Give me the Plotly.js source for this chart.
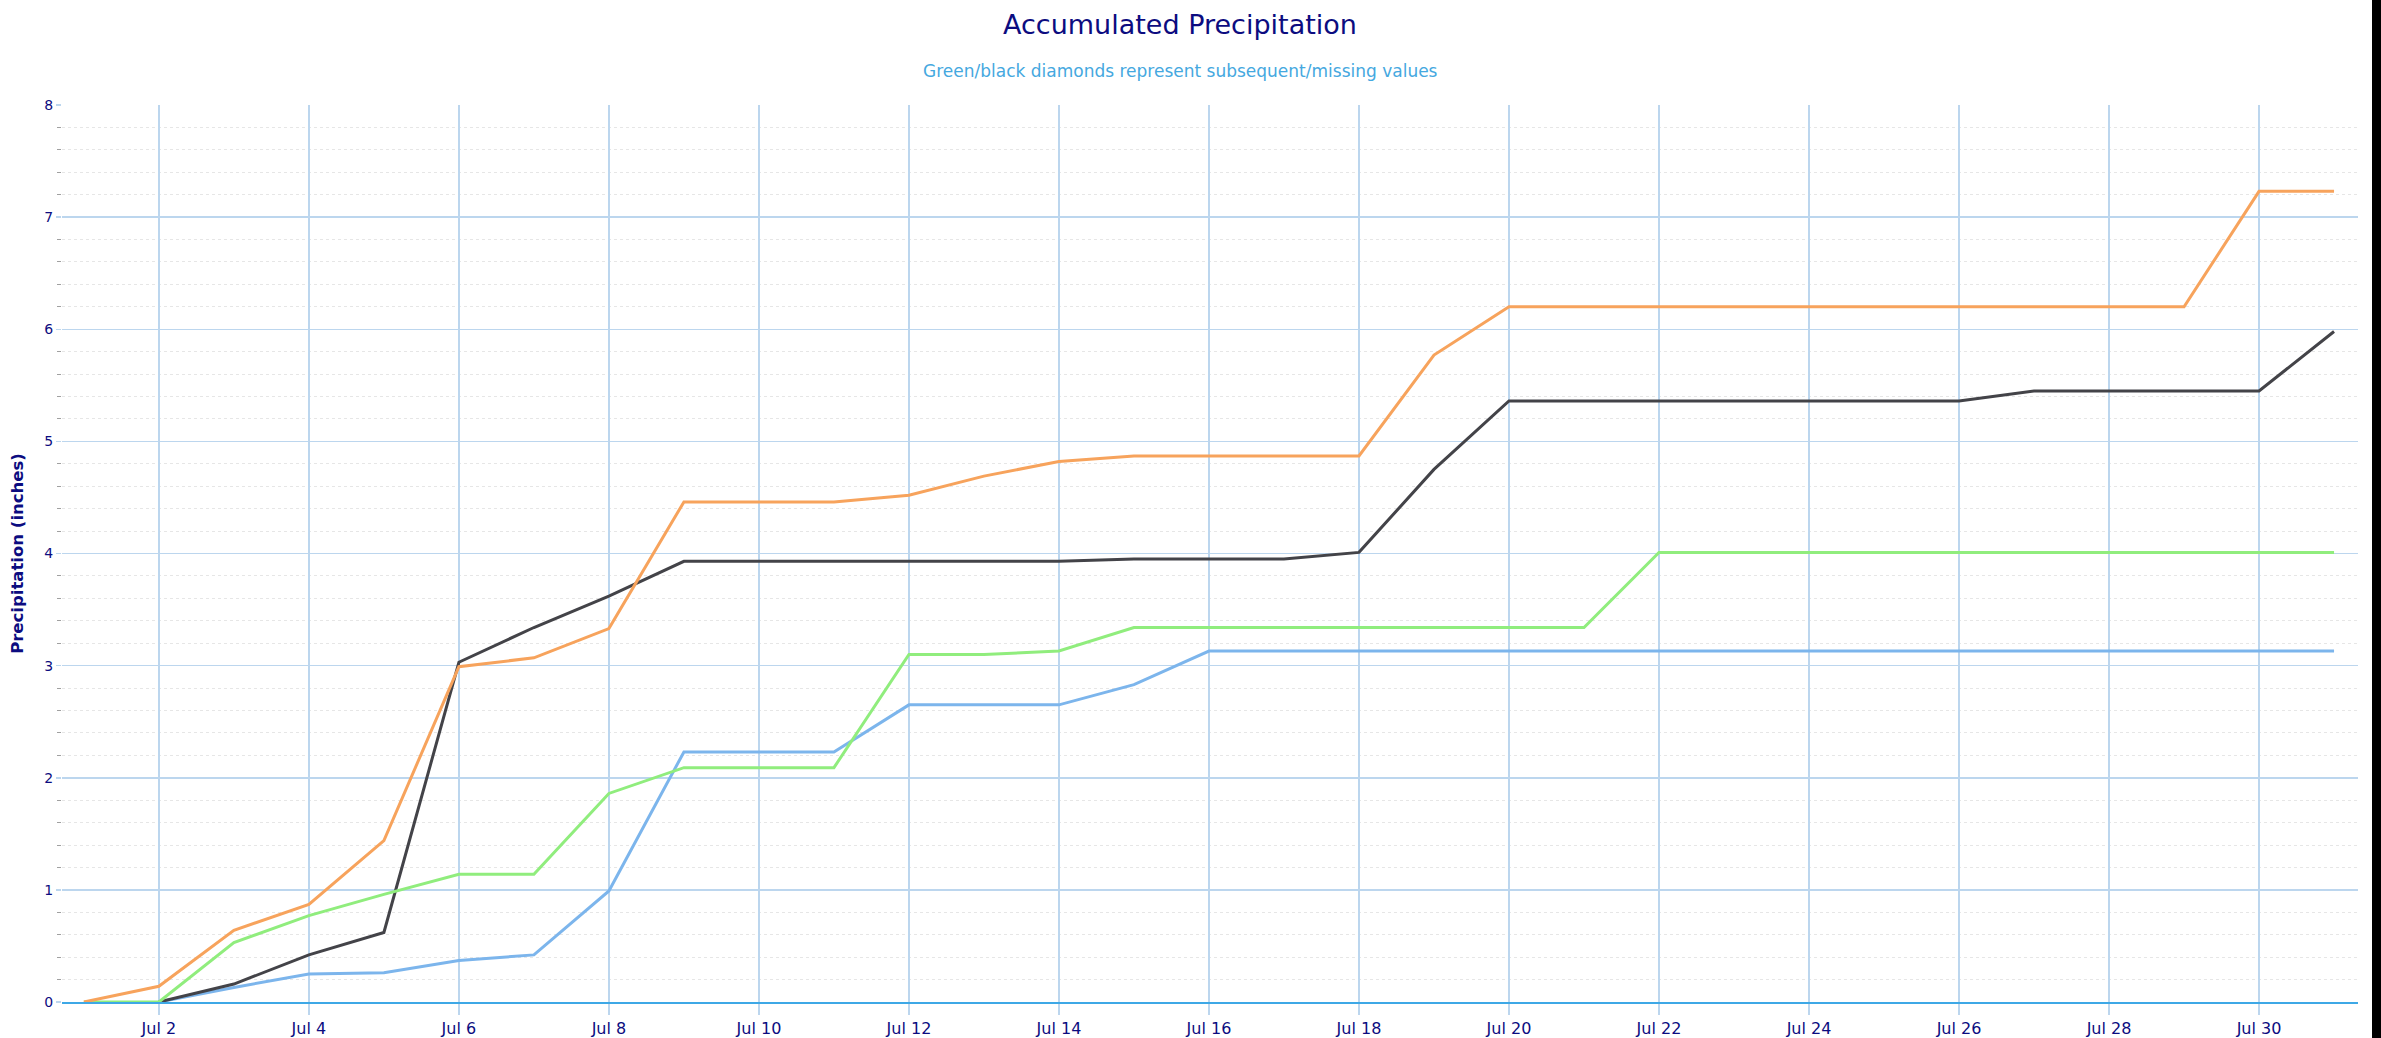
<!DOCTYPE html>
<html>
<head>
<meta charset="utf-8">
<script src="https://cdn.plot.ly/plotly-3.0.1.min.js"></script>
<style>
  html, body { margin: 0; padding: 0; background: #000; overflow: hidden; }
  #chart { width: 2372px; height: 1038px; background: #fff; }
</style>
</head>
<body>
<div id="chart"></div>
<script>
// Dates (July, daily)
const dates = [
  '2023-07-01','2023-07-02','2023-07-03','2023-07-04','2023-07-05','2023-07-06','2023-07-07','2023-07-08',
  '2023-07-09','2023-07-10','2023-07-11','2023-07-12','2023-07-13','2023-07-14','2023-07-15','2023-07-16',
  '2023-07-17','2023-07-18','2023-07-19','2023-07-20','2023-07-21','2023-07-22','2023-07-23','2023-07-24',
  '2023-07-25','2023-07-26','2023-07-27','2023-07-28','2023-07-29','2023-07-30','2023-07-31'
];

// Accumulated precipitation (inches), one value per day
const blueSeries = [null, 0, 0.13, 0.25, 0.26, 0.37, 0.42, 0.99, 2.23, 2.23, 2.23, 2.65, 2.65, 2.65, 2.83, 3.13,
  3.13, 3.13, 3.13, 3.13, 3.13, 3.13, 3.13, 3.13, 3.13, 3.13, 3.13, 3.13, 3.13, 3.13, 3.13];
const blackSeries = [null, 0, 0.16, 0.42, 0.62, 3.03, 3.34, 3.62, 3.93, 3.93, 3.93, 3.93, 3.93, 3.93, 3.95, 3.95,
  3.95, 4.01, 4.75, 5.36, 5.36, 5.36, 5.36, 5.36, 5.36, 5.36, 5.45, 5.45, 5.45, 5.45, 5.98];
const greenSeries = [0, 0, 0.53, 0.77, 0.96, 1.14, 1.14, 1.86, 2.09, 2.09, 2.09, 3.10, 3.10, 3.13, 3.34, 3.34,
  3.34, 3.34, 3.34, 3.34, 3.34, 4.01, 4.01, 4.01, 4.01, 4.01, 4.01, 4.01, 4.01, 4.01, 4.01];
const orangeSeries = [0, 0.14, 0.64, 0.87, 1.44, 2.99, 3.07, 3.33, 4.46, 4.46, 4.46, 4.52, 4.69, 4.82, 4.87, 4.87,
  4.87, 4.87, 5.77, 6.20, 6.20, 6.20, 6.20, 6.20, 6.20, 6.20, 6.20, 6.20, 6.20, 7.23, 7.23];

const titleText = 'Accumulated Precipitation';
const subtitleText = 'Green/black diamonds represent subsequent/missing values';
const yTitleText = 'Precipitation (inches)';

const FONT = 'DejaVu Sans, Verdana, sans-serif';
const NAVY = '#0c0c80';
const GRID = '#bcd6ee';

function line(y, color) {
  return {
    type: 'scatter', mode: 'lines', x: dates, y: y,
    line: { color: color, width: 3 },
    connectgaps: false, hoverinfo: 'x+y', showlegend: false
  };
}

const data = [
  line(blueSeries, '#7cb5ec'),
  line(blackSeries, '#434348'),
  line(greenSeries, '#90ed7d'),
  line(orangeSeries, '#f7a35c')
];

const layout = {
  width: 2372, height: 1038,
  margin: { l: 62, r: 14, t: 105, b: 36, pad: 0 },
  paper_bgcolor: '#ffffff', plot_bgcolor: '#ffffff',
  showlegend: false,
  font: { family: FONT, color: NAVY },
  title: {
    text: titleText,
    font: { family: FONT, size: 27, color: NAVY },
    xref: 'container', x: 1180 / 2372, xanchor: 'center',
    yref: 'container', y: 1 - 25 / 1038, yanchor: 'middle'
  },
  annotations: [{
    text: subtitleText, showarrow: false,
    xref: 'paper', x: (1180 - 62) / 2296, xanchor: 'center',
    yref: 'paper', y: 1 + (105 - 71) / 897, yanchor: 'middle',
    font: { family: FONT, size: 17, color: '#45a8e0' }
  }],
  xaxis: {
    type: 'date',
    range: ['2023-06-30 17:00', '2023-07-31 07:40'],
    tick0: '2023-07-02', dtick: 172800000,
    tickformat: '%b %-d',
    showgrid: true, gridcolor: GRID, gridwidth: 1.5,
    showline: true, linecolor: '#3ea8e6', linewidth: 2,
    ticks: 'outside', ticklen: 11, tickcolor: GRID, tickwidth: 1.5,
    tickfont: { family: FONT, size: 16, color: NAVY },
    zeroline: false, fixedrange: true
  },
  yaxis: {
    range: [0, 8], dtick: 1, tick0: 0,
    showgrid: true, gridcolor: GRID, gridwidth: 1.5,
    showline: false, zeroline: false,
    ticks: 'outside', ticklen: 5, tickcolor: GRID, tickwidth: 1.5,
    tickfont: { family: FONT, size: 14, color: NAVY },
    minor: {
      dtick: 0.2, showgrid: true, gridcolor: '#e6e6e6', griddash: 'dot', gridwidth: 1,
      ticks: 'outside', ticklen: 4, tickcolor: '#a0a0a0', tickwidth: 1
    },
    title: {
      text: '<b>' + yTitleText + '</b>',
      font: { family: FONT, size: 16.5, color: NAVY },
      standoff: 16
    },
    fixedrange: true
  }
};

Plotly.newPlot('chart', data, layout, { displayModeBar: false, staticPlot: true });
</script>
</body>
</html>
